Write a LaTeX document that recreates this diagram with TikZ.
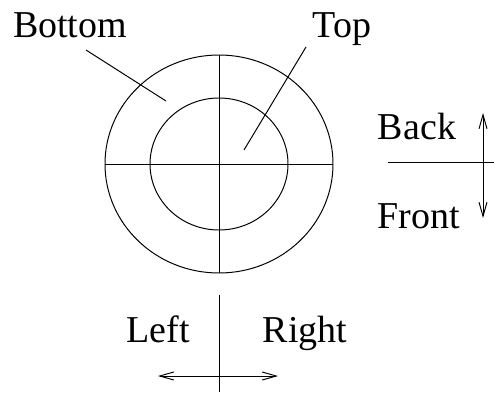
\documentclass[tikz,border=0pt]{standalone}
\usepackage{fontspec}
\setmainfont{Liberation Serif}
\usetikzlibrary{arrows.meta, positioning}

\begin{document}
\begin{tikzpicture}[x=0.025cm, y=-0.025cm, line width=0.7pt,
    lbl/.style={font=\fontsize{27}{32}\selectfont, inner sep=0pt, anchor=base},
    both/.style={{Straight Barb[length=3.5mm, width=2mm]}-{Straight Barb[length=3.5mm, width=2mm]}}]
        \useasboundingbox (0,0) rectangle (494,394);

        % Disc
        \coordinate (c) at (219,164);
        \draw (c) ellipse [x radius=114, y radius=109];
        \draw (c) ellipse [x radius=69, y radius=66];
        \coordinate (n) at (219,55);
        \coordinate (s) at (219,273);
        \coordinate (w) at (105,164);
        \coordinate (e) at (333,164);
        \draw (n) -- (s);
        \draw (w) -- (e);

        % Labels
        \node (bottom) [lbl] at (70,38) {Bottom};
        \node (top) [lbl] at (342,38) {Top};
        \coordinate (bottomfrom) at (86,50);
        \coordinate (bottomto) at (166,101);
        \coordinate (topfrom) at (306,47);
        \coordinate (topto) at (244,150);
        \draw (bottomfrom) -- (bottomto);
        \draw (topfrom) -- (topto);

        % Back / Front
        \node (back) [lbl] at (417,139) {Back};
        \node (front) [lbl] at (419,228) {Front};
        \coordinate (bfl) at (388,162);
        \coordinate (bfr) at (494,162);
        \coordinate (bft) at (483,113);
        \coordinate (bfb) at (483,218);
        \draw (bfl) -- (bfr);
        \draw[both] (bft) -- (bfb);

        % Left / Right
        \node (left) [lbl] at (158,342) {Left};
        \node (right) [lbl] at (305,342) {Right};
        \coordinate (lrt) at (219,295);
        \coordinate (lrb) at (219,392);
        \coordinate (lrl) at (158,376);
        \coordinate (lrr) at (278,376);
        \draw (lrt) -- (lrb);
        \draw[both] (lrl) -- (lrr);
    \end{tikzpicture}
\end{document}
